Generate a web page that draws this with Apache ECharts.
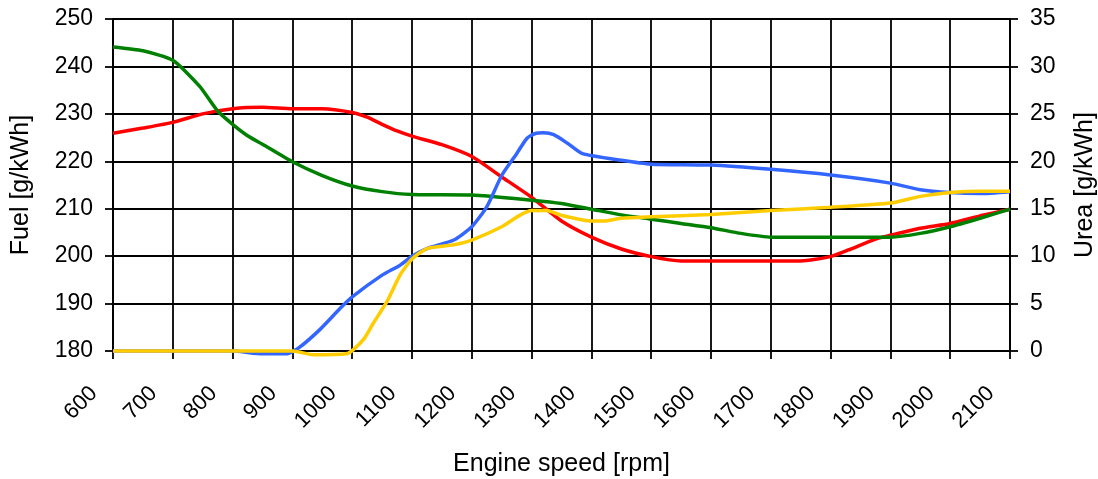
<!DOCTYPE html>
<html>
<head>
<meta charset="utf-8">
<script src="https://cdn.jsdelivr.net/npm/echarts@6/dist/echarts.min.js"></script>
<style>
html,body{margin:0;padding:0;background:#fff;overflow:hidden;}
#c{width:1098px;height:479px;}
</style>
</head>
<body>
<div id="c"></div>
<script>
// X ticks
const xTicks = [600,700,800,900,1000,1100,1200,1300,1400,1500,1600,1700,1800,1900,2000,2100];
const fuelTicks = [180,190,200,210,220,230,240,250];
const ureaTicks = [0,5,10,15,20,25,30,35];

// Green (fuel, left axis)
const greenRpm = [600,650,700,745,775,800,825,850,900,950,1000,1050,1100,1200,1300,1350,1400,1450,1500,1550,1600,1650,1700,1800,1900,1950,2000,2050,2100];
const greenVal = [244.1,243.3,241.3,235.8,230.6,227.8,225.4,223.6,219.9,217.0,214.8,213.6,213.0,212.9,211.8,211.1,209.9,208.7,207.8,206.9,206.0,204.8,204.0,204.0,204.0,204.8,206.2,208.0,209.9];

// Red (fuel, left axis)
const redRpm = [600,650,700,750,800,850,900,950,1000,1025,1050,1075,1100,1150,1200,1250,1300,1350,1400,1450,1500,1550,1600,1700,1750,1800,1830,1875,1900,1950,2000,2050,2100];
const redVal = [225.9,227.0,228.2,230.0,231.1,231.4,231.1,231.1,230.3,229.3,227.8,226.4,225.3,223.5,221.0,216.7,212.4,207.4,204.0,201.5,199.9,199.0,199.0,199.0,199.0,199.9,201.3,203.6,204.4,205.9,206.9,208.5,209.9];

// Blue (urea, right axis)
const blueRpm = [600,800,850,890,910,945,980,1000,1050,1080,1100,1125,1170,1200,1225,1250,1275,1292,1305,1320,1337,1360,1385,1450,1500,1600,1700,1800,1900,1950,2000,2050,2100];
const blueVal = [0,0,-0.3,-0.3,0.3,2.2,4.5,5.7,8.0,9.05,10.0,10.8,11.7,13.1,15.2,18.5,20.8,22.4,22.9,23.0,22.8,21.9,20.8,20.1,19.7,19.6,19.15,18.55,17.7,17.0,16.7,16.6,16.8];

// Yellow (urea, right axis)
const yellowRpm = [600,900,935,990,1002,1020,1035,1058,1080,1100,1125,1170,1200,1250,1280,1300,1325,1350,1400,1420,1450,1500,1600,1700,1800,1900,1950,2000,2050,2100];
const yellowVal = [0,0,-0.4,-0.3,0.15,1.3,2.9,5.2,8.0,9.7,10.8,11.2,11.7,13.1,14.3,14.8,14.8,14.3,13.7,13.7,14.0,14.15,14.4,14.8,15.15,15.6,16.3,16.7,16.85,16.85];

const pairs = (xs, ys) => xs.map((x, i) => [x, ys[i]]);

const FONT = '"Liberation Sans", Arial, sans-serif';
const chart = echarts.init(document.getElementById('c'), null, {renderer: 'canvas'});

const lineSeries = (name, xs, ys, color, yIdx) => ({
  name, type: 'line', yAxisIndex: yIdx, data: pairs(xs, ys),
  showSymbol: false, smooth: 0.2, clip: false,
  lineStyle: {color, width: 3.5}, itemStyle: {color},
  animation: false
});

chart.setOption({
  animation: false,
  backgroundColor: '#fff',
  grid: {left: 113, right: 88, top: 19, bottom: 128, containLabel: false, outerBoundsMode: 'none'},
  xAxis: {
    type: 'value', min: xTicks[0], max: xTicks[xTicks.length - 1], interval: 100,
    name: 'Engine speed [rpm]', nameLocation: 'middle', nameGap: 101,
    nameTextStyle: {fontFamily: FONT, fontSize: 25, color: '#000'},
    axisLine: {show: true, onZero: false, lineStyle: {color: '#000', width: 2}},
    axisTick: {show: true, length: 8, lineStyle: {color: '#000', width: 1.8}},
    splitLine: {show: true, lineStyle: {color: '#000', width: 1.8}},
    axisLabel: {
      rotate: 45, margin: 20, fontFamily: FONT, fontSize: 22, color: '#000',
      padding: [0, 27, 0, 0],
      formatter: v => xTicks.includes(v) ? String(v) : ''
    }
  },
  yAxis: [
    {
      type: 'value', position: 'left', min: fuelTicks[0], max: fuelTicks[fuelTicks.length - 1], interval: 10,
      name: 'Fuel [g/kWh]', nameLocation: 'middle', nameGap: 79, nameRotate: 90,
      nameTextStyle: {fontFamily: FONT, fontSize: 25, color: '#000'},
      axisLine: {show: true, lineStyle: {color: '#000', width: 2}},
      axisTick: {show: true, length: 8, lineStyle: {color: '#000', width: 1.8}},
      splitLine: {show: true, lineStyle: {color: '#000', width: 1.8}},
      axisLabel: {margin: 20, fontFamily: FONT, fontSize: 23, color: '#000'}
    },
    {
      type: 'value', position: 'right', min: ureaTicks[0], max: ureaTicks[ureaTicks.length - 1], interval: 5,
      name: 'Urea [g/kWh]', nameLocation: 'middle', nameGap: 63, nameRotate: 90,
      nameTextStyle: {fontFamily: FONT, fontSize: 25, color: '#000'},
      axisLine: {show: true, lineStyle: {color: '#000', width: 2}},
      axisTick: {show: true, length: 8, lineStyle: {color: '#000', width: 1.8}},
      splitLine: {show: false},
      axisLabel: {margin: 20, fontFamily: FONT, fontSize: 23, color: '#000'}
    }
  ],
  series: [
    lineSeries('Red', redRpm, redVal, '#ff0000', 0),
    lineSeries('Green', greenRpm, greenVal, '#008000', 0),
    lineSeries('Blue', blueRpm, blueVal, '#3366ff', 1),
    lineSeries('Yellow', yellowRpm, yellowVal, '#ffcc00', 1)
  ]
});
</script>
</body>
</html>
